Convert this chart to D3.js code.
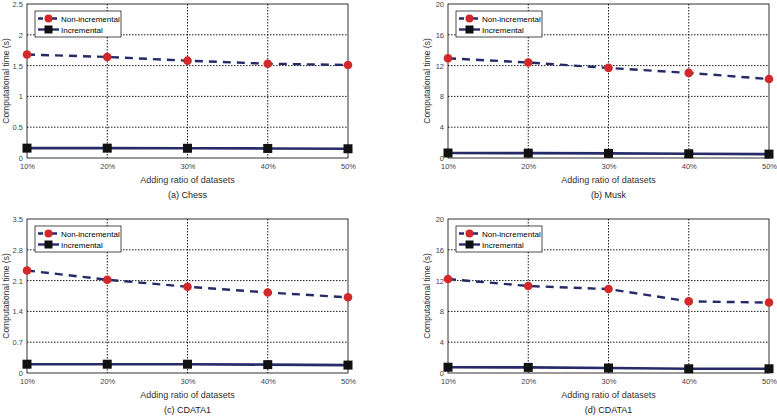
<!DOCTYPE html>
<html>
<head>
<meta charset="utf-8">
<script src="https://cdn.jsdelivr.net/npm/d3@7"></script>
<style>
  body { margin: 0; background: #fff; }
  svg { display: block; font-family: "Liberation Sans", Arial, sans-serif; }
</style>
</head>
<body>
<svg id="chart" width="777" height="416"></svg>
<script>
const ratios = ['10%', '20%', '30%', '40%', '50%'];
const seriesNames = ['Non-incremental', 'Incremental'];

const chessNonInc = [1.68, 1.64, 1.58, 1.53, 1.51];
const chessInc = [0.16, 0.16, 0.158, 0.155, 0.15];
const muskNonInc = [12.95, 12.4, 11.7, 11.05, 10.25];
const muskInc = [0.65, 0.63, 0.6, 0.55, 0.5];
const cdataNonInc = [2.33, 2.12, 1.96, 1.83, 1.72];
const cdataInc = [0.2, 0.2, 0.2, 0.19, 0.18];
const cdata2NonInc = [12.2, 11.3, 10.9, 9.3, 9.15];
const cdata2Inc = [0.75, 0.73, 0.65, 0.55, 0.55];

const chessTicks = [0, 0.5, 1, 1.5, 2, 2.5];
const muskTicks = [0, 4, 8, 12, 16, 20];
const cdataTicks = [0, 0.7, 1.4, 2.1, 2.8, 3.5];

const panels = [
    { x: 27, y: 4, title: '(a) Chess', ticks: chessTicks, nonInc: chessNonInc, inc: chessInc },
    { x: 448, y: 4, title: '(b) Musk', ticks: muskTicks, nonInc: muskNonInc, inc: muskInc },
    { x: 27, y: 219, title: '(c) CDATA1', ticks: cdataTicks, nonInc: cdataNonInc, inc: cdataInc },
    { x: 448, y: 219, title: '(d) CDATA1', ticks: muskTicks, nonInc: cdata2NonInc, inc: cdata2Inc }
];

const plotW = 321, plotH = 154;
const lineColor = '#262b68';
const svg = d3.select('#chart');

function drawPanel(p) {
    const g = svg.append('g').attr('transform', `translate(${p.x},${p.y})`);

    const x = d3.scalePoint().domain(ratios).range([0, plotW]);
    const y = d3.scaleLinear().domain([0, d3.max(p.ticks)]).range([plotH, 0]);

    // grid lines (dotted)
    g.append('g')
        .selectAll('line')
        .data(p.ticks.slice(1, -1))
        .enter()
        .append('line')
        .attr('x1', 0).attr('x2', plotW)
        .attr('y1', d => y(d)).attr('y2', d => y(d))
        .attr('stroke', '#000').attr('stroke-width', 0.9)
        .attr('stroke-dasharray', '1.5,1.5');
    g.append('g')
        .selectAll('line')
        .data(ratios.slice(1, -1))
        .enter()
        .append('line')
        .attr('x1', d => x(d)).attr('x2', d => x(d))
        .attr('y1', 0).attr('y2', plotH)
        .attr('stroke', '#000').attr('stroke-width', 0.9)
        .attr('stroke-dasharray', '1.5,1.5');

    // frame
    g.append('rect')
        .attr('width', plotW).attr('height', plotH)
        .attr('fill', 'none').attr('stroke', '#000').attr('stroke-width', 0.8);

    // axes
    const xAxis = g.append('g').attr('transform', `translate(0,${plotH})`)
        .call(d3.axisBottom(x).tickSize(0).tickPadding(6));
    const yAxis = g.append('g')
        .call(d3.axisLeft(y).tickValues(p.ticks).tickSize(0).tickPadding(4).tickFormat(d3.format('~g')));
    [xAxis, yAxis].forEach(a => {
        a.select('.domain').remove();
        a.selectAll('text').attr('font-size', 7.5).attr('fill', '#444')
            .attr('font-family', '"Liberation Sans", Arial, sans-serif');
    });

    // axis labels
    g.append('text')
        .attr('x', plotW / 2).attr('y', plotH + 25)
        .attr('text-anchor', 'middle').attr('font-size', 9).attr('fill', '#333')
        .text('Adding ratio of datasets');
    g.append('text')
        .attr('x', plotW / 2).attr('y', plotH + 40)
        .attr('text-anchor', 'middle').attr('font-size', 9).attr('fill', '#222')
        .text(p.title);
    g.append('text')
        .attr('transform', `translate(-18,${plotH / 2}) rotate(-90)`)
        .attr('text-anchor', 'middle').attr('font-size', 8.5).attr('fill', '#333')
        .text('Computational time (s)');

    const line = d3.line().x((d, i) => x(ratios[i])).y(d => y(d));

    // incremental
    g.append('path').datum(p.inc)
        .attr('d', line).attr('fill', 'none')
        .attr('stroke', lineColor).attr('stroke-width', 2.6);
    g.selectAll('rect.inc').data(p.inc).enter().append('rect')
        .attr('class', 'inc')
        .attr('x', (d, i) => x(ratios[i]) - 4.5).attr('y', d => y(d) - 4.5)
        .attr('width', 9).attr('height', 9).attr('fill', '#111');

    // non-incremental
    g.append('path').datum(p.nonInc)
        .attr('d', line).attr('fill', 'none')
        .attr('stroke', lineColor).attr('stroke-width', 2.4)
        .attr('stroke-dasharray', '8,6');
    g.selectAll('circle.non').data(p.nonInc).enter().append('circle')
        .attr('class', 'non')
        .attr('cx', (d, i) => x(ratios[i])).attr('cy', d => y(d))
        .attr('r', 4.3).attr('fill', '#d0282b');

    // legend
    const lg = g.append('g').attr('transform', 'translate(8,7)');
    lg.append('rect').attr('width', 86).attr('height', 26)
        .attr('fill', '#fff').attr('stroke', '#000').attr('stroke-width', 0.7);
    seriesNames.forEach((name, i) => {
        const ly = 7.5 + i * 11;
        lg.append('line').attr('x1', 3).attr('x2', 24).attr('y1', ly).attr('y2', ly)
            .attr('stroke', lineColor).attr('stroke-width', 2.4)
            .attr('stroke-dasharray', i === 0 ? '5,2' : null);
        if (i === 0) {
            lg.append('circle').attr('cx', 13.5).attr('cy', ly).attr('r', 4).attr('fill', '#d0282b');
        } else {
            lg.append('rect').attr('x', 9.5).attr('y', ly - 4).attr('width', 8).attr('height', 8).attr('fill', '#111');
        }
        lg.append('text').attr('x', 26).attr('y', ly + 3)
            .attr('font-size', 8).attr('fill', '#000').text(name);
    });
}

panels.forEach(drawPanel);
</script>
</body>
</html>
